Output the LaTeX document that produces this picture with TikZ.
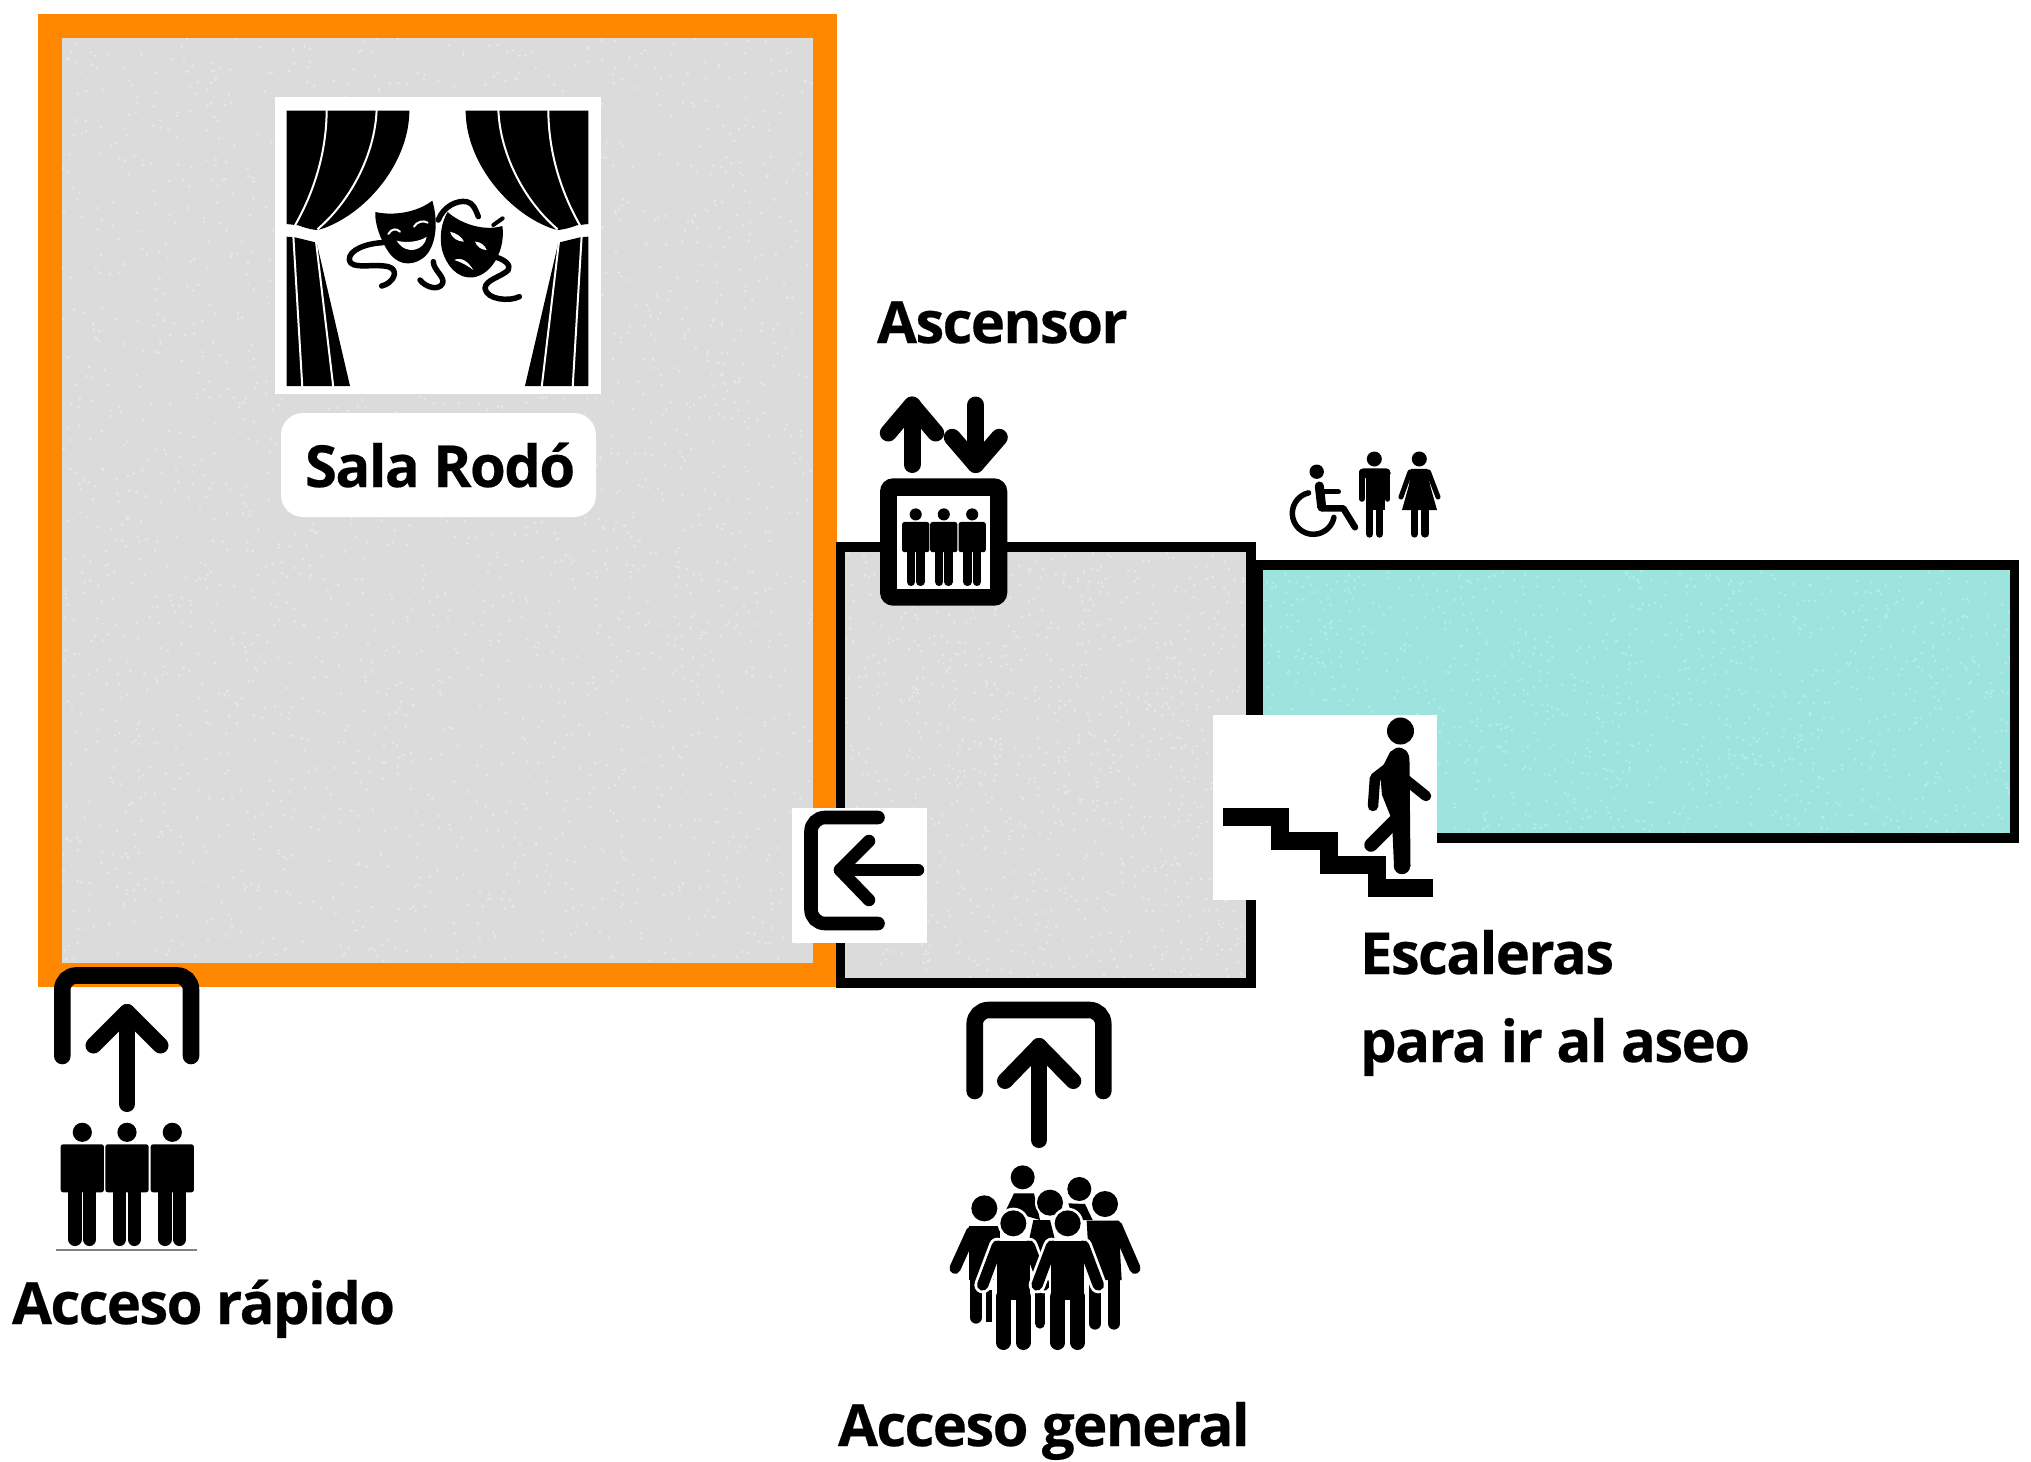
\documentclass[tikz,border=0pt]{standalone}
\usepackage{fontspec}
\setmainfont[LetterSpace=-2.8,BoldFeatures={FakeBold=0.35}]{Open Sans}
\definecolor{room}{HTML}{DBDBDB}
\definecolor{roomdot}{HTML}{E7E7E7}
\definecolor{frameorange}{HTML}{FF8800}
\definecolor{teal1}{HTML}{9DE4DF}
\definecolor{tealdot}{HTML}{B4ECE8}
\tikzset{
  ln/.style={draw=black,line width=#1*0.5pt,line cap=round,line join=round},
  wall/.style={draw=black,line width=#1*0.5pt,line join=miter},
  lbl/.style={inner sep=0pt,outer sep=0pt,font=\fontsize{29}{35}\selectfont\bfseries,anchor=base west},
}
% three-person figure: head centre at origin, size factor #3
\newcommand{\peep}[3]{%
  \pgfmathsetmacro{\legw}{13.5*#3*0.5}
  \begin{scope}[shift={(#1,#2)},scale=#3]
    \fill (0,0) circle (9.6);
    \fill[rounded corners=1.2pt] (-21.6,12) rectangle (21.6,60);
    \draw[line width=\legw pt,line cap=round] (-7.3,58) -- (-7.3,107);
    \draw[line width=\legw pt,line cap=round] (7.3,58) -- (7.3,107);
  \end{scope}}
% crowd figure in crop units: cx, colour, extra width
\newcommand{\fpath}[3]{%
  \begin{scope}[shift={(#1,780)}]
    \fill[#2] (0,-50) circle ({39+#3});
    \draw[#2,line width={(34+2*#3)*0.1667pt},line cap=round,line join=round] (-48,18) -- (-92,135);
    \draw[#2,line width={(34+2*#3)*0.1667pt},line cap=round,line join=round] (48,18) -- (92,135);
    \draw[#2,line width={(98+2*#3)*0.1667pt},line join=round] (0,4) -- (0,180);
    \draw[#2,line width={(44+2*#3)*0.1667pt},line cap=round] (-30,170) -- (-30,308);
    \draw[#2,line width={(44+2*#3)*0.1667pt},line cap=round] (30,170) -- (30,308);
  \end{scope}}
\newcommand{\curtainhalf}{%
  \fill (80,92) -- (448,92) .. controls (448,230) and (345,370) .. (225,430) .. controls (200,442) and (185,448) .. (170,450) .. controls (150,448) and (130,442) .. (115,436) -- (80,432) -- cycle;
  \draw[white,line width=1pt] (200,88) .. controls (200,220) and (160,340) .. (105,436);
  \draw[white,line width=1pt] (350,88) .. controls (345,230) and (265,370) .. (172,448);
  \fill (80,470) -- (105,472) -- (170,488) -- (270,918) -- (80,918) -- cycle;
  \draw[white,line width=1pt] (100,468) -- (127,922);
  \draw[white,line width=1pt] (168,484) -- (220,922);
}
\begin{document}
\begin{tikzpicture}[x=0.5pt,y=-0.5pt]
\useasboundingbox (0,0) rectangle (2031,1462);
\fill[white] (0,0) rectangle (2031,1462);
% rooms
\fill[room] (50,26) rectangle (825,975);
\fill[room] (840,547) rectangle (1250,983);
\fill[teal1] (1258,566) rectangle (2015,838);
\pgfmathsetseed{11}
\foreach \i in {1,...,2400}{\fill[roomdot] ({62+rnd*750},{38+rnd*925}) circle (1.5);}
\foreach \i in {1,...,1000}{\fill[roomdot] ({846+rnd*400},{553+rnd*425}) circle (1.5);}
\foreach \i in {1,...,1200}{\fill[tealdot] ({1264+rnd*746},{571+rnd*262}) circle (1.5);}
% orange frame
\draw[frameorange,line width=12pt,line join=miter] (50,26) rectangle (825,975);
% middle box and toilets corridor
\draw[wall=9.5] (840.5,547) rectangle (1250.8,983);
\draw[wall=9.5] (1258,565.2) rectangle (2014.5,838);

% curtains and masks
\fill[white] (275,97) rectangle (601,394);
\begin{scope}[shift={(260,80)},scale=1/3]
  \curtainhalf
  \begin{scope}[shift={(1065,0)},xscale=-1]
    \curtainhalf
  \end{scope}
  % ribbons
  \draw[ln=5.5] (368,488) .. controls (320,490) and (265,510) .. (268,540) .. controls (272,570) and (340,550) .. (385,560) .. controls (420,570) and (400,610) .. (365,618);
  \draw[ln=5.5] (535,420) .. controls (550,380) and (590,360) .. (620,365) .. controls (640,370) and (645,385) .. (655,410);
  \draw[ln=5.5] (480,600) .. controls (495,620) and (535,635) .. (548,610) .. controls (555,590) and (520,570) .. (520,545);
  \draw[ln=5.5] (700,530) .. controls (730,535) and (755,555) .. (745,570) .. controls (725,590) and (675,600) .. (675,625) .. controls (680,660) and (750,665) .. (778,650);
  \draw[ln=4] (700,435) -- (728,415);
  % happy mask
  \fill (346,396) .. controls (400,408) and (470,398) .. (517,362) .. controls (537,430) and (527,502) .. (492,532) .. controls (450,564) and (408,552) .. (383,512) .. controls (363,482) and (343,430) .. (346,396) -- cycle;
  \draw[white,line width=1pt,line cap=round] (385,462) .. controls (395,445) and (410,445) .. (420,455);
  \draw[white,line width=1pt,line cap=round] (462,440) .. controls (470,425) and (490,420) .. (503,428);
  \fill[white] (410,482) .. controls (440,490) and (480,485) .. (500,470) .. controls (495,510) and (440,530) .. (410,482) -- cycle;
  % sad mask
  \fill (563,396) .. controls (600,430) and (670,455) .. (727,438) .. controls (737,500) and (702,582) .. (640,592) .. controls (588,597) and (558,552) .. (546,510) .. controls (538,470) and (543,430) .. (563,396) -- cycle;
  \fill[white] (570,455) .. controls (590,460) and (605,470) .. (612,485) .. controls (595,485) and (575,475) .. (570,455) -- cycle;
  \fill[white] (645,485) .. controls (660,485) and (675,495) .. (680,510) .. controls (665,510) and (650,500) .. (645,485) -- cycle;
  \fill[white] (583,540) .. controls (605,530) and (625,545) .. (640,570) .. controls (620,555) and (600,545) .. (583,540) -- cycle;
\end{scope}

% Sala Rodo label
\fill[white,rounded corners=11pt] (281,413) rectangle (596,517);
\node[lbl] (sala) at (305,487) {Sala Rodó};

% texts
\node[lbl] (ascensor) at (877,343) {Ascensor};
\node[lbl] (escaleras) at (1360,974) {Escaleras};
\node[lbl] (aseo) at (1360,1062) {para ir al aseo};
\node[lbl] (rapido) at (12,1324) {Acceso rápido};
\node[lbl] (general) at (838,1446) {Acceso general};

% lift
\draw[ln=17] (912,464.5) -- (912,405);
\draw[ln=17] (888.3,433) -- (912,405) -- (935.7,433);
\draw[ln=17] (975.7,405) -- (975.7,464.5);
\draw[ln=17] (952.3,437.3) -- (975.7,464.5) -- (999.3,437.3);
\fill[black,rounded corners=6.5pt] (880,478.3) rectangle (1007.3,605.7);
\fill[white] (896.7,496) rectangle (990,589);
\peep{915.7}{514.4}{.63}
\peep{943.8}{514.4}{.63}
\peep{972.2}{514.4}{.63}

% wheelchair, man, woman
\fill (1316.7,471.7) circle (7.2);
\draw[ln=9] (1319.3,486) -- (1321.7,507);
\draw[ln=6.5] (1321.7,508.3) -- (1343.3,508.3) -- (1355,527.3);
\draw[ln=5.5] (1323.3,491.7) -- (1338.3,491.7);
\draw[ln=5.5] (1313.3,513.3) ++(-103:21) arc[start angle=-103,end angle=-349,radius=21];
\fill (1374.3,459) circle (7.5);
\fill[rounded corners=2.2pt] (1359,468.3) rectangle (1390.5,478);
\fill (1366,470) rectangle (1384.5,510);
\draw[ln=5.5] (1361.8,472) -- (1361.8,499);
\draw[ln=5.5] (1387.7,472) -- (1387.7,499);
\draw[ln=7.4] (1369.7,505) -- (1369.7,534);
\draw[ln=7.4] (1379.7,505) -- (1379.7,534);
\fill (1419.3,459) circle (7.5);
\fill (1411,468.8) -- (1427.5,468.8) -- (1430,485) -- (1437,510) -- (1402,510) -- (1409,485) -- cycle;
\draw[ln=5] (1410,472) -- (1401,497);
\draw[ln=5] (1428.5,472) -- (1438,497);
\draw[ln=7.2] (1414.3,508) -- (1414.3,534);
\draw[ln=7.2] (1425,508) -- (1425,534);

% stairs
\fill[white] (1213,715) rectangle (1437,900);
\draw[line width=8.8pt,line join=miter] (1223,817) -- (1280,817) -- (1280,841) -- (1329,841) -- (1329,865) -- (1377,865) -- (1377,888) -- (1433,888);
\fill (1400.5,731) circle (13.5);
\fill (1396,748) .. controls (1404,746) and (1410,752) .. (1409.5,762) -- (1410.5,866) -- (1394,866) -- (1392,820) -- (1382,795) -- (1380,772) -- (1390,752) -- cycle;
\fill (1402,866) circle (8.2);
\draw[ln=10.5] (1388,768) -- (1375,778) -- (1373,806);
\draw[ln=10.5] (1405,779) -- (1426,796);
\draw[ln=13.5] (1396,820) -- (1371,845);

% exit to Sala
\fill[white] (792,808) rectangle (927,943);
\draw[line width=6.8pt,line cap=round,rounded corners=7pt] (878,817.5) -- (811,817.5) -- (811,923.5) -- (878,923.5);
\draw[ln=12.5] (918,870) -- (840,870);
\draw[ln=12.5] (869,841) -- (840,870) -- (869,900);

% quick access
\draw[line width=8.3pt,line cap=round,rounded corners=7pt] (62.3,1056) -- (62.3,975.5) -- (191,975.5) -- (191,1056);
\draw[ln=16] (127,1104) -- (127,1012);
\draw[ln=16] (93.5,1045.5) -- (127,1012) -- (160.5,1045.5);
\peep{82.3}{1132.3}{1}
\peep{127}{1132.3}{1}
\peep{172.3}{1132.3}{1}
\draw[gray,line width=1pt] (56,1249.5) -- (197,1249.5);

% general access
\draw[line width=8.3pt,line cap=round,rounded corners=7pt] (974.7,1091) -- (974.7,1010) -- (1103.3,1010) -- (1103.3,1091);
\draw[ln=16] (1039,1140) -- (1039,1046);
\draw[ln=16] (1005,1081) -- (1039,1046) -- (1073.3,1081);
\begin{scope}[shift={(900,980)},scale=1/3]
  % back figures
  \fill (368,592) circle (36);
  \fill (318,690) -- (342,640) -- (402,640) -- (420,720) -- cycle;
  \fill (538,627) circle (36);
  \fill (505,670) -- (555,672) -- (578,720) -- (520,720) -- cycle;
  \fill (253,685) circle (39);
  \draw[line width=5.6pt,line cap=round] (215,755) -- (165,865);
  \fill (207,738) rectangle (300,900);
  \draw[line width=6.3pt,line cap=round] (228,880) -- (228,1012);
  \draw[line width=3pt] (268,930) -- (268,1025);
  \fill (615,672) circle (39);
  \draw[line width=5.6pt,line cap=round] (650,738) -- (705,865);
  \fill (560,722) -- (655,722) -- (665,900) -- (570,900) -- cycle;
  \draw[line width=6.3pt,line cap=round] (585,880) -- (585,1030);
  \draw[line width=6.3pt,line cap=round] (642,880) -- (642,1030);
  \fill[white] (450,668) circle (45);
  \fill (450,668) circle (39);
  \fill (400,720) -- (450,720) -- (470,800) -- (430,860) -- (385,790) -- cycle;
  \draw[line width=5.3pt,line cap=round] (420,930) -- (420,1030);
  % front figures
  \fpath{340}{white}{8}
  \fpath{340}{black}{0}
  \fpath{503}{white}{8}
  \fpath{503}{black}{0}
\end{scope}
\end{tikzpicture}
\end{document}
